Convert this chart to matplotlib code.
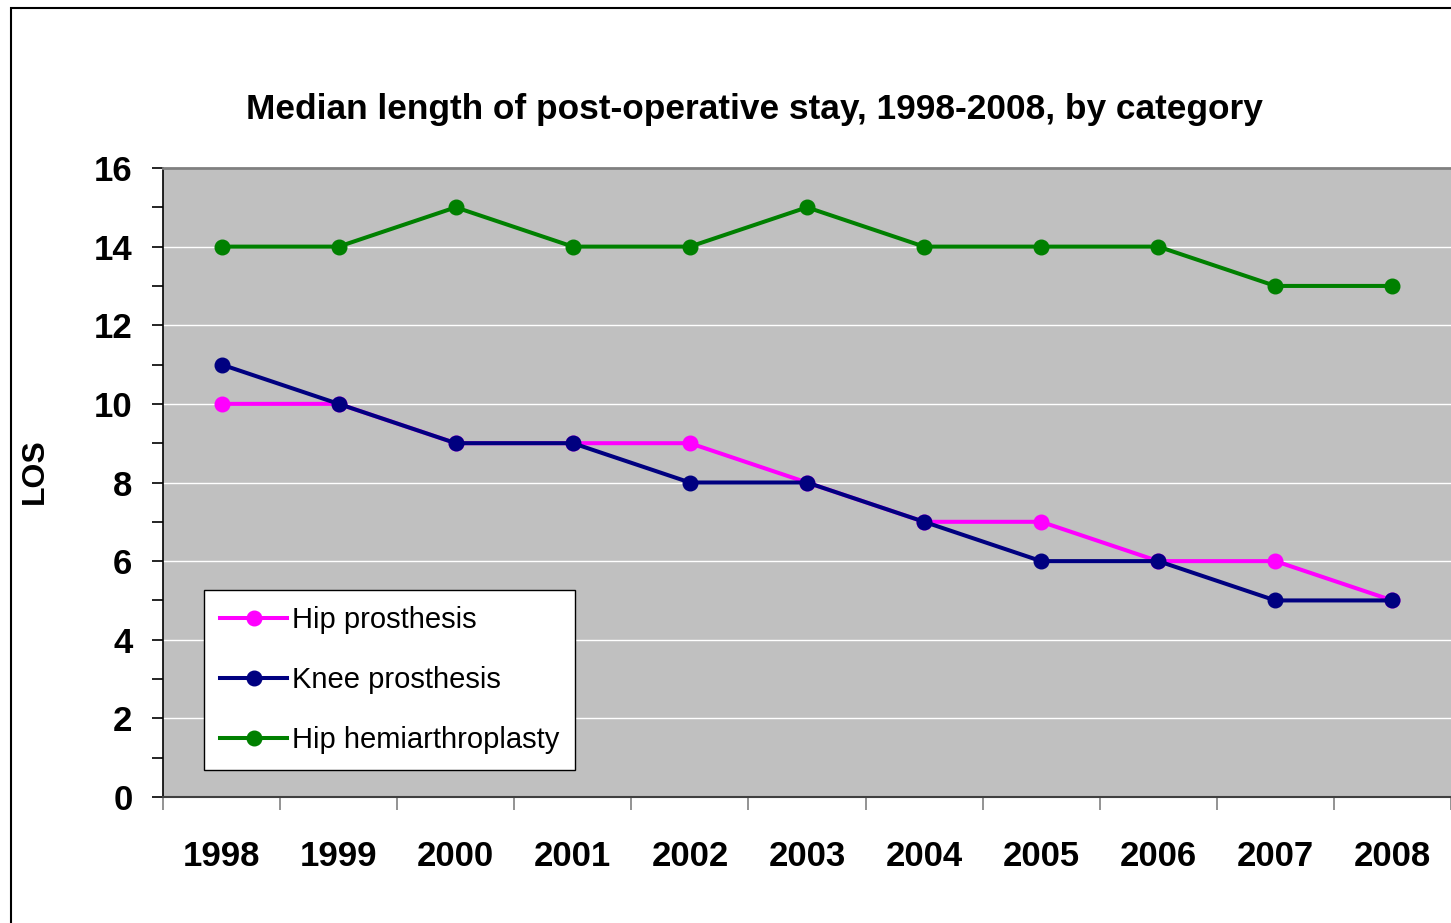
import numpy as np
import matplotlib
matplotlib.use('Agg')
from matplotlib import pyplot as plt
from matplotlib.patches import Rectangle

plt.rcParams['font.family'] = ['Liberation Sans', 'DejaVu Sans']

# data
years = ['1998', '1999', '2000', '2001', '2002', '2003', '2004', '2005', '2006', '2007', '2008']
hip = [10, 10, 9, 9, 9, 8, 7, 7, 6, 6, 5]
knee = [11, 10, 9, 9, 8, 8, 7, 6, 6, 5, 5]
hemi = [14, 14, 15, 14, 14, 15, 14, 14, 14, 13, 13]

W, H = 1451, 923
fig = plt.figure(figsize=(W / 100, H / 100), dpi=100)
ax = fig.add_axes([163 / W, 1 - 797 / H, (1451 - 163) / W, (797 - 168) / H])
ax.set_facecolor('#c0c0c0')

# chart area border
fig.add_artist(Rectangle((11 / W, -0.1), 1.2, 1 - 8 / H + 0.1, transform=fig.transFigure,
                         fill=False, edgecolor='black', linewidth=1.5, clip_on=False))

x = np.arange(len(years))
ax.plot(x, hip, color='#ff00ff', lw=2.9, marker='o', ms=10.5, label='Hip prosthesis', zorder=3)
ax.plot(x, knee, color='#000080', lw=2.9, marker='o', ms=10.5, label='Knee prosthesis', zorder=4)
ax.plot(x, hemi, color='#008000', lw=2.9, marker='o', ms=10.5, label='Hip hemiarthroplasty', zorder=3)

ax.set_xlim(-0.5, len(years) - 0.5)
ax.set_ylim(0, 16)
ax.set_yticks(np.arange(0, 17, 2))
ax.set_yticks(np.arange(1, 16, 2), minor=True)
ax.yaxis.grid(True, which='major', color='white', lw=1)
ax.set_axisbelow(True)

ax.set_xticks(np.arange(-0.5, len(years), 1))
ax.set_xticklabels([])
ax.set_xticks(x, minor=True)
ax.set_xticklabels(years, minor=True, fontsize=25, fontweight='bold')
ax.tick_params(axis='x', which='major', length=9, color='#808080', width=1.2)
ax.tick_params(axis='x', which='minor', length=0, pad=31)
ax.tick_params(axis='y', which='both', length=8, width=1.2, color='black')
ax.tick_params(axis='y', labelsize=25, pad=14)
for lb in ax.get_yticklabels():
    lb.set_fontweight('bold')

ax.spines['right'].set_visible(False)
ax.spines['top'].set_color('#808080')
ax.spines['top'].set_linewidth(2)
ax.spines['left'].set_linewidth(1.2)
ax.spines['bottom'].set_linewidth(1.5)
ax.spines['bottom'].set_color('#404040')

fig.text(35 / W, 1 - 471 / H, 'LOS', rotation=90, ha='center', va='center',
         fontsize=23, fontweight='bold')
fig.text(754 / W, 1 - 110 / H, 'Median length of post-operative stay, 1998-2008, by category',
         ha='center', va='center', fontsize=25.4, fontweight='bold')

leg = ax.legend(loc='lower left', bbox_to_anchor=((204 - 163) / (1451 - 163), (797 - 770) / (797 - 168)),
                fontsize=21, frameon=True, fancybox=False, edgecolor='black', framealpha=1,
                handlelength=2.3, labelspacing=1.1, borderpad=0.55, handletextpad=0.15,
                borderaxespad=0)
leg.get_frame().set_linewidth(1)

plt.savefig('out.png', dpi=100)
